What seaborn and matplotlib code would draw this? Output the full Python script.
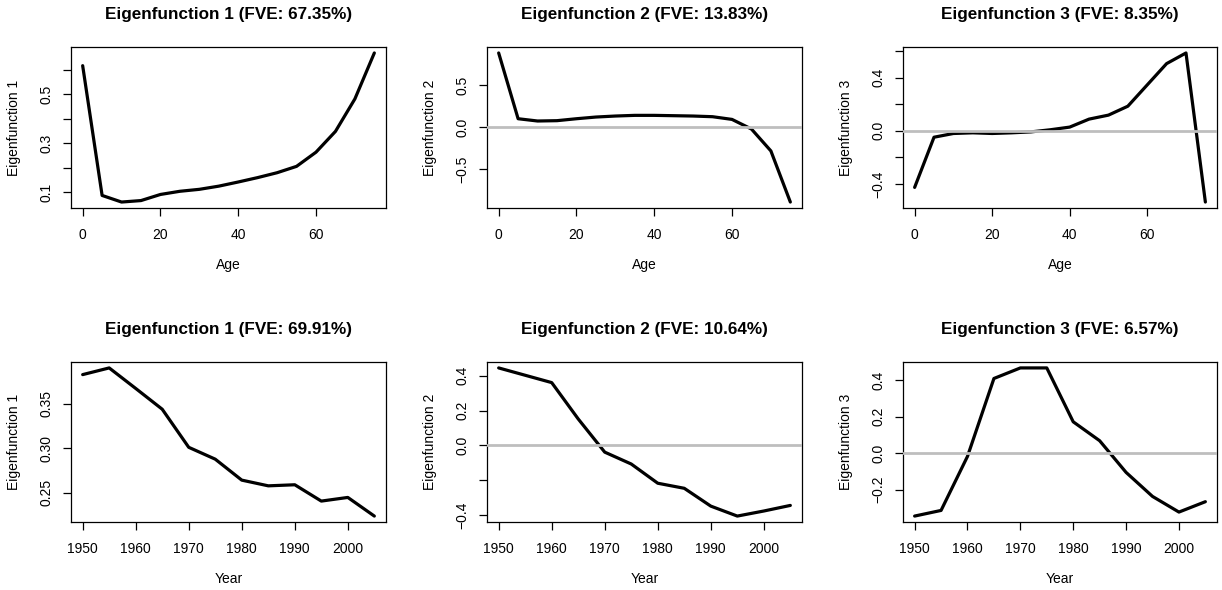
import numpy as np
import pandas as pd
import matplotlib
matplotlib.use("Agg")
import matplotlib.pyplot as plt
import seaborn as sns

# Ages and years on which the eigenfunctions are evaluated
ages = [0, 5, 10, 15, 20, 25, 30, 35, 40, 45, 50, 55, 60, 65, 70, 75]
years = [1950, 1955, 1960, 1965, 1970, 1975, 1980, 1985, 1990, 1995, 2000, 2005]

# Age eigenfunctions
age_ef1 = [0.617, 0.086, 0.059, 0.065, 0.090, 0.103, 0.111, 0.124,
           0.141, 0.159, 0.179, 0.205, 0.263, 0.348, 0.481, 0.669]
age_ef2 = [0.882, 0.102, 0.075, 0.079, 0.102, 0.122, 0.134, 0.142,
           0.142, 0.138, 0.134, 0.126, 0.094, -0.020, -0.280, -0.886]
age_ef3 = [-0.425, -0.048, -0.020, -0.015, -0.020, -0.015, -0.008, 0.008,
           0.028, 0.088, 0.118, 0.185, 0.345, 0.505, 0.585, -0.535]

# Year eigenfunctions
year_ef1 = [0.3825, 0.390, 0.367, 0.3437, 0.301, 0.2877, 0.2642, 0.2578,
            0.259, 0.2407, 0.2448, 0.2239]
year_ef2 = [0.444, 0.402, 0.360, 0.152, -0.038, -0.106, -0.216, -0.245,
            -0.347, -0.404, -0.375, -0.343]
year_ef3 = [-0.346, -0.315, -0.018, 0.410, 0.468, 0.468, 0.172, 0.068,
            -0.106, -0.238, -0.324, -0.267]

# Fraction of variance explained
fve_age = [67.35, 13.83, 8.35]
fve_year = [69.91, 10.64, 6.57]

# Tick positions and labels (empty strings mark unlabeled ticks)
age_xticks = [0, 20, 40, 60]
year_xticks = [1950, 1960, 1970, 1980, 1990, 2000]
yticks = [
    ([0.1, 0.2, 0.3, 0.4, 0.5, 0.6], ["0.1", "", "0.3", "", "0.5", ""]),
    ([-0.5, 0.0, 0.5], ["\u22120.5", "0.0", "0.5"]),
    ([-0.4, -0.2, 0.0, 0.2, 0.4, 0.6], ["\u22120.4", "", "0.0", "", "0.4", ""]),
    ([0.25, 0.30, 0.35], ["0.25", "0.30", "0.35"]),
    ([-0.4, -0.2, 0.0, 0.2, 0.4], ["\u22120.4", "", "0.0", "0.2", "0.4"]),
    ([-0.2, 0.0, 0.2, 0.4], ["\u22120.2", "0.0", "0.2", "0.4"]),
]

sns.set_style("ticks")
plt.rcParams["font.family"] = ["Liberation Sans", "DejaVu Sans"]
plt.rcParams["text.color"] = "black"
plt.rcParams["axes.labelcolor"] = "black"
plt.rcParams["xtick.color"] = "black"
plt.rcParams["ytick.color"] = "black"

W, H, DPI = 1222, 590, 100
fig = plt.figure(figsize=(W / DPI, H / DPI), dpi=DPI)

# Axes boxes in pixels: (left, top, right, bottom)
col_px = [(71, 386), (487, 802), (903, 1217)]
row_px = [(47, 208), (362, 522)]

panels = []
for r, (xs, series, fves, xname, xt) in enumerate([
        (ages, [age_ef1, age_ef2, age_ef3], fve_age, "Age", age_xticks),
        (years, [year_ef1, year_ef2, year_ef3], fve_year, "Year", year_xticks)]):
    for c in range(3):
        panels.append((r, c, xs, series[c], fves[c], xname, xt))

for idx, (r, c, xs, ys, fve, xname, xt) in enumerate(panels):
    l, rr = col_px[c]
    t, b = row_px[r]
    ax = fig.add_axes([l / W, 1 - b / H, (rr - l) / W, (b - t) / H])
    df = pd.DataFrame({"x": xs, "y": ys})
    sns.lineplot(data=df, x="x", y="y", ax=ax, color="black", lw=2.3,
                 zorder=2)
    if c > 0:
        ax.axhline(0, color="#BEBEBE", lw=2.0, zorder=3)

    # R-style 4% padding of the data range
    xmin, xmax = min(xs), max(xs)
    ymin, ymax = min(ys), max(ys)
    px = 0.04 * (xmax - xmin)
    py = 0.04 * (ymax - ymin)
    ax.set_xlim(xmin - px, xmax + px)
    ax.set_ylim(ymin - py, ymax + py)

    ax.set_xticks(xt, [str(v) for v in xt])
    ticks, labels = yticks[idx]
    ax.set_yticks(ticks, labels)

    for s in ax.spines.values():
        s.set_visible(True)
        s.set_linewidth(0.9)
        s.set_color("black")
    ax.tick_params(axis="both", direction="out", length=5.5, width=0.9,
                   labelsize=10, colors="black", labelcolor="black")
    ax.tick_params(axis="x", pad=9)
    ax.tick_params(axis="y", pad=7)
    for lab in ax.get_yticklabels():
        lab.set_rotation(90)
        lab.set_va("center")
        lab.set_ha("right")

    ax.set_xlabel(xname, fontsize=10, color="black")
    ax.set_ylabel(f"Eigenfunction {c + 1}", fontsize=10, color="black")
    hgt = b - t
    ax.xaxis.set_label_coords(0.5, -57 / hgt)
    ax.xaxis.label.set_va("center")
    ax.yaxis.set_label_coords(-57 / (rr - l), 0.5)
    ax.yaxis.label.set_va("center")

    ax.set_title(f"Eigenfunction {c + 1} (FVE: {fve:.2f}%)",
                 fontsize=12.3, fontweight="bold", y=1 + 32.5 / hgt,
                 va="center", pad=0, color="black")

fig.savefig("out.png", dpi=DPI)
